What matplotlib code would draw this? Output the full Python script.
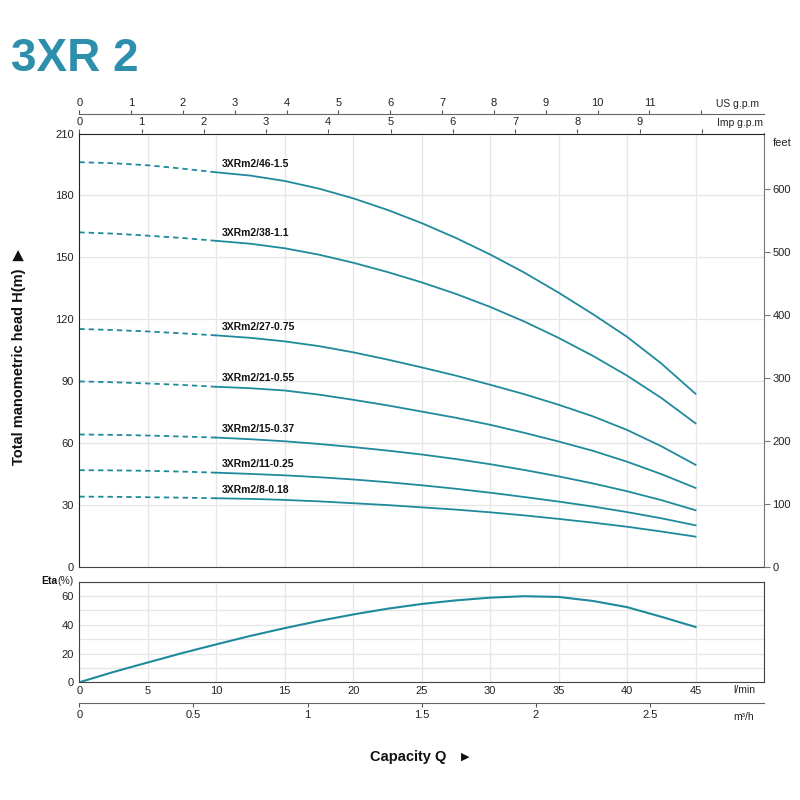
"""
3XR 2 pump performance chart.
"""

import matplotlib

matplotlib.use("Agg")
import matplotlib.pyplot as plt

plt.rcParams["font.family"] = ["Liberation Sans", "DejaVu Sans"]

# flow in l/min
q_dash = [0, 2.5, 5, 7.5, 10]
q_solid = [10, 12.5, 15, 17.5, 20, 22.5, 25, 27.5, 30, 32.5, 35, 37.5, 40, 42.5, 45]

models = [
    "3XRm2/46-1.5",
    "3XRm2/38-1.1",
    "3XRm2/27-0.75",
    "3XRm2/21-0.55",
    "3XRm2/15-0.37",
    "3XRm2/11-0.25",
    "3XRm2/8-0.18",
]

# head (m) on the dashed part, Q = 0..10
head_dash = [
    [196.1, 195.6, 194.6, 193.0, 191.2],
    [162.1, 161.5, 160.5, 159.4, 158.0],
    [115.3, 114.8, 114.1, 113.2, 112.2],
    [89.9, 89.5, 88.9, 88.2, 87.3],
    [64.2, 64.0, 63.7, 63.2, 62.7],
    [46.9, 46.8, 46.6, 46.2, 45.7],
    [34.1, 34.0, 33.8, 33.6, 33.3],
]

# head (m) on the solid part, Q = 10..45
head_solid = [
    [191.2, 189.6, 187.0, 183.3, 178.6, 173.0, 166.6, 159.4, 151.4, 142.6, 132.9, 122.5, 111.5, 98.6, 83.9],
    [158.0, 156.6, 154.4, 151.3, 147.4, 142.9, 137.9, 132.3, 126.0, 118.9, 111.0, 102.3, 92.7, 81.9, 69.6],
    [112.2, 111.0, 109.3, 107.0, 104.0, 100.5, 96.7, 92.7, 88.3, 83.7, 78.6, 73.0, 66.4, 58.5, 49.5],
    [87.3, 86.6, 85.5, 83.5, 81.0, 78.3, 75.3, 72.3, 68.9, 65.0, 60.8, 56.3, 51.0, 45.0, 38.3],
    [62.7, 61.9, 60.9, 59.6, 58.1, 56.4, 54.5, 52.3, 49.8, 47.0, 43.9, 40.5, 36.7, 32.4, 27.5],
    [45.7, 45.1, 44.4, 43.5, 42.4, 41.1, 39.6, 37.9, 36.0, 33.9, 31.7, 29.3, 26.6, 23.6, 20.2],
    [33.3, 33.0, 32.5, 31.8, 30.9, 30.0, 28.9, 27.8, 26.5, 25.0, 23.3, 21.5, 19.5, 17.2, 14.7],
]

# efficiency (%)
q_eta = [0, 2.5, 5, 7.5, 10, 12.5, 15, 17.5, 20, 22.5, 25, 27.5, 30, 32.5, 35, 37.5, 40, 42.5, 45]
eta = [0, 7.2, 13.8, 20.3, 26.4, 32.3, 37.7, 42.7, 47.2, 51.2, 54.5, 57.0, 58.9, 59.9, 59.4, 56.6, 52.3, 45.6, 38.5]

# secondary scales
us_ticks = list(range(0, 13))
imp_ticks = list(range(0, 11))
m3h_ticks = [0, 0.5, 1, 1.5, 2, 2.5]
feet_ticks = [0, 100, 200, 300, 400, 500, 600]

LPM_PER_US = 3.785
LPM_PER_IMP = 4.546
LPM_PER_M3H = 1000 / 60
FT_PER_M = 3.2808

curve_color = "#1f8a9c"
title_color = "#2e8fad"
grid_color = "#e6e6e6"
tick_size = 8


def px(x, y):
    return x / 800, 1 - y / 800


fig = plt.figure(figsize=(8, 8), dpi=100)

L, R = 79.3, 764.0
W = (R - L) / 800

# main head axes
ax = fig.add_axes([L / 800, 1 - 567 / 800, W, (567 - 133.5) / 800])
ax.set_xlim(0, 50)
ax.set_ylim(0, 210)
ax.set_xticks(range(0, 51, 5))
ax.set_yticks(range(0, 211, 30))
ax.grid(True, color=grid_color, linewidth=0.9)
ax.set_axisbelow(True)
ax.tick_params(axis="x", bottom=False, labelbottom=False, top=False)
ax.tick_params(axis="y", length=0, pad=4, labelsize=tick_size, colors="#222")
for s in ["left", "top"]:
    ax.spines[s].set_color("#222")
ax.spines["bottom"].set_color("#444")
ax.spines["right"].set_color("#777")

for name, hd, hs in zip(models, head_dash, head_solid):
    ax.plot(q_dash, hd, color=curve_color, linewidth=1.3, linestyle=(0, (3, 2.2)))
    ax.plot(q_solid, hs, color=curve_color, linewidth=1.3, solid_joinstyle="round")
    ax.annotate(
        name,
        (q_solid[0], hs[0]),
        textcoords="offset points",
        xytext=(4, 6),
        ha="left",
        va="center",
        fontsize=7.5,
        fontweight="bold",
        color="#111",
    )

# feet scale on the right
axr = ax.twinx()
axr.set_ylim(0, 210 * FT_PER_M)
axr.set_yticks(feet_ticks)
axr.tick_params(axis="y", length=4, width=0.8, color="#777", pad=2, labelsize=tick_size, labelcolor="#222")
for s in axr.spines.values():
    s.set_visible(False)

# Imp g.p.m on the top spine
imp = ax.secondary_xaxis("top", functions=(lambda q: q / LPM_PER_IMP, lambda g: g * LPM_PER_IMP))
imp.set_xticks(imp_ticks)
imp.set_xticklabels([str(t) if t < 10 else "" for t in imp_ticks])
imp.tick_params(length=3, width=0.8, color="#555", pad=1.5, labelsize=tick_size, labelcolor="#222")
imp.spines["top"].set_visible(False)

# US g.p.m line
us = fig.add_axes([L / 800, 1 - 114 / 800, W, 1e-6])
us.set_xlim(0, 50)
us.set_yticks([])
us.set_xticks([t * LPM_PER_US for t in us_ticks])
us.set_xticklabels([str(t) if t < 12 else "" for t in us_ticks])
us.tick_params(axis="x", bottom=False, labelbottom=False, top=True, labeltop=True,
               length=3, width=0.8, color="#555", pad=1.5, labelsize=tick_size, labelcolor="#222")
for s in ["left", "right", "bottom"]:
    us.spines[s].set_visible(False)
us.spines["top"].set_color("#666")
us.patch.set_visible(False)

# efficiency axes
ax2 = fig.add_axes([L / 800, 1 - 682.3 / 800, W, (682.3 - 581.7) / 800])
ax2.set_xlim(0, 50)
ax2.set_ylim(0, 70)
ax2.set_xticks(range(0, 46, 5))
ax2.set_xticks(range(0, 51, 5), minor=True)
ax2.set_yticks([0, 20, 40, 60])
ax2.set_yticks(range(0, 71, 10), minor=True)
ax2.grid(True, which="both", color=grid_color, linewidth=0.9)
ax2.set_axisbelow(True)
ax2.tick_params(which="both", length=0)
ax2.tick_params(axis="x", pad=3, labelsize=tick_size, colors="#222")
ax2.tick_params(axis="y", pad=4, labelsize=tick_size, colors="#222")
for s in ax2.spines.values():
    s.set_color("#444")
ax2.plot(q_eta, eta, color=curve_color, linewidth=1.5, solid_joinstyle="round")

# m3/h line
m3 = fig.add_axes([L / 800, 1 - 702.7 / 800, W, 1e-6])
m3.set_xlim(0, 50)
m3.set_yticks([])
m3.set_xticks([t * LPM_PER_M3H for t in m3h_ticks])
m3.set_xticklabels([f"{t:g}" for t in m3h_ticks])
m3.tick_params(axis="x", length=3, width=0.8, color="#555", pad=2, labelsize=tick_size, labelcolor="#222")
for s in ["left", "right", "top"]:
    m3.spines[s].set_visible(False)
m3.spines["bottom"].set_color("#666")
m3.patch.set_visible(False)

# texts
fig.text(*px(11, 59), "3XR 2", fontsize=33, fontweight="bold", color=title_color, ha="left", va="center")
fig.text(*px(759, 104), "US g.p.m", fontsize=7.5, ha="right", va="center", color="#222")
fig.text(*px(763, 123), "Imp g.p.m", fontsize=7.5, ha="right", va="center", color="#222")
fig.text(*px(773, 143), "feet", fontsize=8, ha="left", va="center", color="#222")
fig.text(*px(733, 690), "l/min", fontsize=7.5, ha="left", va="center", color="#222")
fig.text(*px(733, 717), "m³/h", fontsize=7.5, ha="left", va="center", color="#222")

pct = fig.text(*px(73.5, 581), "(%)", fontsize=7.5, ha="right", va="center", color="#222")
ax2.annotate("Eta", xy=(0, 0.5), xycoords=pct, ha="right", va="center",
             fontsize=7.5, fontweight="bold", color="#111", annotation_clip=False)

fig.text(*px(408, 757), "Capacity Q", fontsize=10.5, fontweight="bold", ha="center", va="center", color="#111")
fig.text(*px(465, 757), "\u25b6", fontsize=8, ha="center", va="center", color="#111",
         family="DejaVu Sans")
fig.text(*px(19, 357), "Total manometric head H(m)  \u25b6", fontsize=10.5, fontweight="bold",
         rotation=90, ha="center", va="center", color="#111")

fig.savefig("out.png", dpi=100)
